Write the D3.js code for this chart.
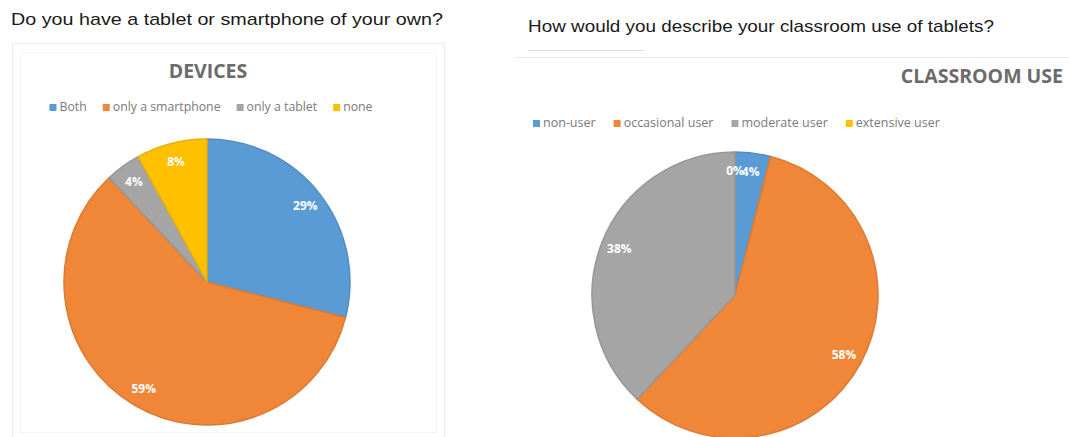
<!DOCTYPE html>
<html lang="en">
<head>
  <meta charset="UTF-8">
  <title>Devices and classroom use</title>
  <script src="https://cdn.jsdelivr.net/npm/d3@7"></script>
  <style>
    body { margin: 0; background: #fff; }
    .question { font-family: "Liberation Sans", Arial, sans-serif; font-size: 17px; fill: #1a1a1a; }
    .chart-title { font-family: "Open Sans", sans-serif; font-weight: bold; font-size: 19.5px; fill: #6b6b6b; }
    .legend text { font-family: "Open Sans", sans-serif; fill: #7a7a7a; }
    .slice-label { font-family: "Open Sans", sans-serif; font-weight: bold; font-size: 12px; fill: #fff; }
  </style>
</head>
<body>
<svg width="1069" height="437"></svg>
<script>
  // data
  const deviceCats = ["Both", "only a smartphone", "only a tablet", "none"];
  const deviceVals = [29, 59, 4, 8];
  const useCats = ["non-user", "occasional user", "moderate user", "extensive user"];
  const useVals = [4, 58, 38, 0];
  const sliceColors = ["#5b9bd5", "#ef8638", "#a5a5a5", "#ffc000"];

  const svg = d3.select("svg");

  // frames (faint, like the screenshot)
  svg.append("rect").attr("x", 12.5).attr("y", 43.5).attr("width", 432).attr("height", 400)
    .attr("fill", "none").attr("stroke", "#ececec");
  svg.append("rect").attr("x", 20.5).attr("y", 52.5).attr("width", 416).attr("height", 380)
    .attr("fill", "none").attr("stroke", "#f4f4f4");
  svg.append("line").attr("x1", 515).attr("x2", 1069).attr("y1", 57.5).attr("y2", 57.5)
    .attr("stroke", "#eaeaea");
  svg.append("line").attr("x1", 528).attr("x2", 645).attr("y1", 50.5).attr("y2", 50.5)
    .attr("stroke", "#dcdcdc");

  // question texts (the screenshot is stretched a little sideways)
  svg.append("text").attr("class", "question").attr("x", 11).attr("y", 25)
    .attr("textLength", 432).attr("lengthAdjust", "spacingAndGlyphs")
    .text("Do you have a tablet or smartphone of your own?");
  svg.append("text").attr("class", "question").attr("x", 528).attr("y", 32)
    .attr("textLength", 466).attr("lengthAdjust", "spacingAndGlyphs")
    .text("How would you describe your classroom use of tablets?");

  const pie = d3.pie().sort(null).value(d => d);

  function drawPie(cfg) {
    const g = svg.append("g").attr("transform", `translate(${cfg.cx},${cfg.cy})`);
    const arc = d3.arc().innerRadius(0).outerRadius(cfg.r);
    const labelArc = d3.arc().innerRadius(cfg.r * 0.87).outerRadius(cfg.r * 0.87);
    const arcs = pie(cfg.values);

    g.selectAll("path").data(arcs).join("path")
      .attr("d", arc)
      .attr("fill", (d, i) => sliceColors[i])
      .attr("stroke", (d, i) => d.data > 0 ? d3.color(sliceColors[i]).darker(0.25) : "none")
      .attr("stroke-width", 1.5)
      .attr("stroke-linejoin", "round");

    g.selectAll("text").data(arcs).join("text")
      .attr("class", "slice-label")
      .attr("text-anchor", "middle")
      .attr("dy", "0.35em")
      .attr("transform", d => `translate(${labelArc.centroid(d)})`)
      .text(d => d.data + "%");

    // title
    svg.append("text").attr("class", "chart-title")
      .attr("x", cfg.titleX).attr("y", cfg.titleY)
      .attr("text-anchor", cfg.titleAnchor || "middle")
      .text(cfg.title);

    // legend
    const leg = svg.append("g").attr("class", "legend");
    let x = 0;
    cfg.cats.forEach((c, i) => {
      const item = leg.append("g").attr("transform", `translate(${x},0)`);
      item.append("rect").attr("width", 7).attr("height", 7).attr("y", -7)
        .attr("fill", sliceColors[i]);
      const tx = item.append("text").attr("x", 10).attr("y", 0)
        .style("font-size", cfg.legendSize + "px").text(c);
      x += 10 + tx.node().getComputedTextLength() + cfg.legendGap;
    });
    const total = x - cfg.legendGap;
    const lx = cfg.legendAlign === "left" ? cfg.legendX : cfg.legendX - total / 2;
    leg.attr("transform", `translate(${lx},${cfg.legendY})`);
  }

  drawPie({
    values: deviceVals, cats: deviceCats, cx: 207, cy: 282, r: 143,
    title: "DEVICES", titleX: 208, titleY: 78,
    legendX: 211, legendY: 111, legendAlign: "center", legendSize: 12.3, legendGap: 16
  });

  drawPie({
    values: useVals, cats: useCats, cx: 735, cy: 295, r: 143,
    title: "CLASSROOM USE", titleX: 1063, titleY: 83, titleAnchor: "end",
    legendX: 533, legendY: 127, legendAlign: "left", legendSize: 12.5, legendGap: 18
  });
</script>
</body>
</html>
